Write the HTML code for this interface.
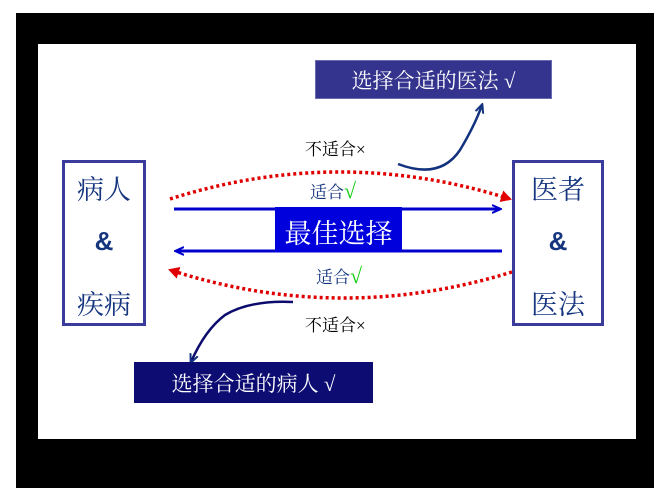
<!DOCTYPE html>
<html><head><meta charset="utf-8"><style>
body{margin:0;width:662px;height:496px;background:#fff;position:relative;overflow:hidden;font-family:"Liberation Sans","Noto Sans CJK SC",sans-serif}
div{position:absolute;box-sizing:border-box}
.t{white-space:nowrap}
</style></head><body>
<div style="left:16px;top:13px;width:638px;height:475px;background:#000"></div>
<div style="left:38px;top:44px;width:598px;height:395px;background:#fff"></div>
<svg style="position:absolute;left:0;top:0" width="662" height="496">
<defs>
<marker id="ab" markerWidth="10" markerHeight="10" refX="8" refY="5" orient="auto" markerUnits="userSpaceOnUse"><path d="M0,1 L9,5 L0,9" fill="none" stroke="#0000cc" stroke-width="2"/></marker>
<marker id="an" markerWidth="10" markerHeight="10" refX="8" refY="5" orient="auto" markerUnits="userSpaceOnUse"><path d="M0,1 L9,5 L0,9" fill="none" stroke="#12327f" stroke-width="2"/></marker>
<marker id="ar" markerWidth="12" markerHeight="12" refX="9" refY="6" orient="auto" markerUnits="userSpaceOnUse"><path d="M0,0 L11,6 L0,12 Z" fill="#e00000"/></marker>
</defs>
<line x1="174" y1="209" x2="500" y2="209" stroke="#0000cc" stroke-width="3" marker-end="url(#ab)"/>
<line x1="502" y1="251" x2="176" y2="251" stroke="#0000cc" stroke-width="3" marker-end="url(#ab)"/>
<path d="M170,199 Q340,145 510,199" fill="none" stroke="#e00000" stroke-width="3.5" stroke-dasharray="3,3" marker-end="url(#ar)"/>
<path d="M512,272 Q340,325 170,270" fill="none" stroke="#e00000" stroke-width="3.5" stroke-dasharray="3,3" marker-end="url(#ar)"/>
<path d="M398,164 Q440,180 460,150 Q475,125 482,105" fill="none" stroke="#12327f" stroke-width="2.5" marker-end="url(#an)"/>
<path d="M293,302 Q250,300 225,315 Q205,330 191,362" fill="none" stroke="#0c0c6e" stroke-width="2.5" marker-end="url(#an)"/>
</svg>
<div style="left:62px;top:160px;width:84px;height:166px;border:3px solid #3b3b9b;background:#fff"></div>
<div class="t" style="left:62px;top:168px;width:84px;text-align:center;font-size:27px;color:#15357f;font-family:'Liberation Serif','Noto Serif CJK SC',serif">病人</div>
<div class="t" style="left:62px;top:226px;width:84px;text-align:center;font-size:26px;font-weight:bold;color:#15357f">&amp;</div>
<div class="t" style="left:62px;top:283px;width:84px;text-align:center;font-size:27px;color:#15357f;font-family:'Liberation Serif','Noto Serif CJK SC',serif">疾病</div>
<div style="left:512px;top:160px;width:92px;height:166px;border:3px solid #3b3b9b;background:#fff"></div>
<div class="t" style="left:512px;top:168px;width:92px;text-align:center;font-size:27px;color:#15357f;font-family:'Liberation Serif','Noto Serif CJK SC',serif">医者</div>
<div class="t" style="left:512px;top:226px;width:92px;text-align:center;font-size:26px;font-weight:bold;color:#15357f">&amp;</div>
<div class="t" style="left:512px;top:283px;width:92px;text-align:center;font-size:27px;color:#15357f;font-family:'Liberation Serif','Noto Serif CJK SC',serif">医法</div>
<div style="left:315px;top:60px;width:237px;height:39px;background:#34348e;border:1px solid #6a6ab0"></div>
<div class="t" style="left:315px;top:65px;width:237px;text-align:center;font-size:21px;color:#fff;font-family:'Liberation Serif','Noto Serif CJK SC',serif">选择合适的医法 √</div>
<div style="left:134px;top:362px;width:239px;height:41px;background:#0c0c72"></div>
<div class="t" style="left:134px;top:368px;width:239px;text-align:center;font-size:21px;color:#fff;font-family:'Liberation Serif','Noto Serif CJK SC',serif">选择合适的病人 √</div>
<div style="left:275px;top:207px;width:127px;height:45px;background:#0000dd"></div>
<div class="t" style="left:275px;top:212px;width:127px;text-align:center;font-size:27px;color:#fff;font-family:'Liberation Serif','Noto Serif CJK SC',serif">最佳选择</div>
<div class="t" style="left:305px;top:135px;font-size:17px;color:#000;font-family:'Liberation Serif','Noto Serif CJK SC',serif">不适合×</div>
<div class="t" style="left:305px;top:311px;font-size:17px;color:#000;font-family:'Liberation Serif','Noto Serif CJK SC',serif">不适合×</div>
<div class="t" style="left:310px;top:178px;font-size:17px;color:#15357f;font-family:'Liberation Serif','Noto Serif CJK SC',serif">适合<span style="color:#10d010;font-size:22px">√</span></div>
<div class="t" style="left:316px;top:263px;font-size:17px;color:#15357f;font-family:'Liberation Serif','Noto Serif CJK SC',serif">适合<span style="color:#10d010;font-size:22px">√</span></div>
</body></html>
